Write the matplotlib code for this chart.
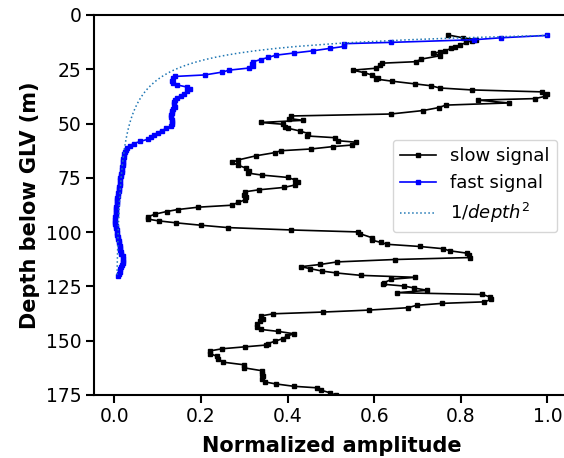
import numpy as np
import matplotlib
matplotlib.use("Agg")
import matplotlib.pyplot as plt

# slow signal
slow_depth = [9.2, 10.5, 11.4, 11.9, 12.6, 13.9, 14.6, 15.4, 16.5, 17.2, 17.4, 18.8,
              20.3, 21.5, 22.2, 23.1, 24.5, 25.4, 26.5, 27.6, 28.8, 29.5, 30.5, 31.7,
              32.6, 33.6, 34.5, 35.4, 36.5, 37.5, 38.5, 39.2, 40.5, 41.5, 42.6, 44.0,
              45.6, 46.5, 47.7, 48.5, 49.5, 50.3, 51.4, 52.2, 53.4, 54.6, 55.7, 56.5,
              57.9, 58.6, 59.9, 60.6, 61.7, 62.5, 63.4, 64.8, 66.8, 67.9, 69.1, 70.6,
              71.7, 72.8, 73.7, 74.8, 75.9, 77.1, 78.3, 79.4, 80.5, 81.4, 82.8, 84.0,
              85.1, 86.3, 87.6, 88.5, 89.6, 90.5, 91.7, 93.0, 94.0, 94.8, 95.7, 96.8,
              97.9, 99.0, 99.9, 100.7, 102.5, 103.7, 104.7, 105.6, 106.6, 107.6, 108.6,
              109.7, 110.6, 111.7, 112.6, 113.7, 114.9, 115.9, 116.8, 117.9, 118.8,
              119.9, 120.8, 121.7, 123.3, 124.0, 124.8, 125.7, 126.8, 127.9, 128.7,
              129.8, 131.0, 132.1, 132.8, 133.7, 134.8, 135.9, 136.8, 137.6, 138.6,
              139.9, 141.0, 142.5, 143.6, 144.8, 145.7, 146.8, 147.9, 149.0, 150.2,
              151.3, 152.0, 152.8, 153.7, 154.7, 156.0, 157.1, 158.4, 159.9, 161.1,
              162.5, 163.8, 165.1, 166.3, 167.6, 169.0, 169.9, 171.0, 171.7, 172.8,
              174.0, 175.2]
slow_amp = [0.771, 0.805, 0.836, 0.825, 0.813, 0.798, 0.786, 0.778, 0.763, 0.751, 0.736, 0.751,
            0.709, 0.696, 0.617, 0.613, 0.605, 0.550, 0.576, 0.594, 0.609, 0.605, 0.642, 0.694,
            0.732, 0.751, 0.825, 0.988, 1.000, 0.994, 0.971, 0.840, 0.911, 0.765, 0.750, 0.713,
            0.638, 0.409, 0.404, 0.436, 0.338, 0.389, 0.394, 0.402, 0.428, 0.448, 0.444, 0.509,
            0.517, 0.559, 0.548, 0.505, 0.454, 0.385, 0.370, 0.328, 0.285, 0.272, 0.285, 0.305,
            0.311, 0.308, 0.340, 0.400, 0.417, 0.423, 0.417, 0.392, 0.334, 0.302, 0.300, 0.305,
            0.302, 0.286, 0.271, 0.194, 0.146, 0.121, 0.094, 0.077, 0.077, 0.102, 0.142, 0.199,
            0.262, 0.409, 0.563, 0.567, 0.594, 0.595, 0.615, 0.630, 0.705, 0.758, 0.775,
            0.815, 0.820, 0.821, 0.648, 0.515, 0.475, 0.431, 0.452, 0.479, 0.513,
            0.569, 0.695, 0.640, 0.623, 0.621, 0.668, 0.692, 0.723, 0.652, 0.850,
            0.867, 0.871, 0.854, 0.757, 0.698, 0.678, 0.588, 0.482, 0.367, 0.338,
            0.343, 0.336, 0.329, 0.329, 0.338, 0.378, 0.415, 0.398, 0.390, 0.371,
            0.355, 0.350, 0.302, 0.249, 0.221, 0.222, 0.236, 0.240, 0.252, 0.300,
            0.300, 0.340, 0.342, 0.344, 0.340, 0.348, 0.373, 0.415, 0.469, 0.478,
            0.498, 0.513]

# fast signal
fast_depth = [9.4, 10.5, 11.4, 12.6, 13.2, 14.5, 15.4, 16.5, 17.5, 18.5, 19.5, 20.5,
              21.5, 22.5, 23.6, 24.4, 25.4, 26.3, 27.6, 28.3, 29.2, 30.2, 31.2, 32.2,
              33.2, 34.2, 35.2, 36.2, 37.2, 38.2, 39.2, 40.2, 41.2, 42.2, 43.2, 44.2,
              45.2, 46.2, 47.2, 48.2, 49.2, 50.2, 51.2, 52.2, 53.2, 54.2, 55.2, 56.2,
              57.2, 58.2, 59.2, 60.2, 61.2, 62.2, 63.2, 64.2, 65.2, 66.2, 67.2, 68.2,
              69.2, 70.2, 71.2, 72.2, 73.2, 74.2, 75.2, 76.2, 77.2, 78.2, 79.2, 80.2,
              81.2, 82.2, 83.2, 84.2, 85.2, 86.2, 87.2, 88.2, 89.2, 90.2, 91.2, 92.2,
              93.2, 94.2, 95.2, 96.2, 97.2, 98.2, 99.2, 100.2, 101.2, 102.2, 103.2, 104.2,
              105.2, 106.2, 107.2, 108.2, 109.2, 110.2, 111.2, 112.2, 113.2, 114.2, 115.2,
              116.2, 117.2, 118.2, 119.2, 120.2]
fast_amp = [1.000, 0.892, 0.830, 0.640, 0.531, 0.530, 0.497, 0.458, 0.415, 0.373, 0.356, 0.338,
            0.321, 0.319, 0.321, 0.312, 0.265, 0.249, 0.209, 0.140, 0.135, 0.134, 0.136, 0.145,
            0.168, 0.175, 0.168, 0.160, 0.153, 0.144, 0.141, 0.138, 0.137, 0.141, 0.136, 0.133,
            0.132, 0.131, 0.131, 0.133, 0.134, 0.133, 0.130, 0.120, 0.110, 0.100, 0.092, 0.085,
            0.078, 0.060, 0.045, 0.036, 0.030, 0.027, 0.025, 0.023, 0.022, 0.021, 0.021, 0.020,
            0.019, 0.018, 0.018, 0.017, 0.016, 0.015, 0.014, 0.013, 0.013, 0.012, 0.011, 0.011,
            0.010, 0.009, 0.008, 0.007, 0.006, 0.006, 0.005, 0.004, 0.004, 0.003, 0.003, 0.003,
            0.002, 0.002, 0.002, 0.002, 0.003, 0.004, 0.005, 0.006, 0.007, 0.008, 0.009, 0.010,
            0.011, 0.012, 0.013, 0.014, 0.015, 0.016, 0.019, 0.021, 0.020, 0.019, 0.018,
            0.016, 0.014, 0.012, 0.010, 0.008]

y_ticks = [0, 25, 50, 75, 100, 125, 150, 175]
x_ticks = [0.0, 0.2, 0.4, 0.6, 0.8, 1.0]

# 1/depth^2 reference, normalised to the first depth
fd = np.array(fast_depth)
inv_sq = (fd[0] / fd) ** 2

fig = plt.figure(figsize=(5.64, 4.58), dpi=100)
ax = fig.add_axes([94 / 564, 63 / 458, 475 / 564, 380 / 458])

ax.plot(slow_amp, slow_depth, color='black', marker='s', markersize=2.8,
        linewidth=1.2, label='slow signal')
ax.plot(fast_amp, fast_depth, color='blue', marker='s', markersize=2.8,
        linewidth=1.2, label='fast signal')
ax.plot(inv_sq, fast_depth, ':', color='C0', linewidth=1.1, label=r'$1/depth^2$')

ax.set_xlim(-0.047, 1.05)
ax.set_ylim(175, 0)
ax.set_yticks(y_ticks)
ax.set_xticks(x_ticks)
ax.tick_params(labelsize=13.5, length=5.5, width=1.5)
for s in ax.spines.values():
    s.set_linewidth(1.5)

ax.set_xlabel('Normalized amplitude', fontsize=15, fontweight='bold', labelpad=7)
ax.set_ylabel('Depth below GLV (m)', fontsize=15, fontweight='bold')

ax.legend(fontsize=13, loc='upper right', bbox_to_anchor=(0.975, 0.672),
          borderaxespad=0)

fig.savefig('out.png', dpi=100)
